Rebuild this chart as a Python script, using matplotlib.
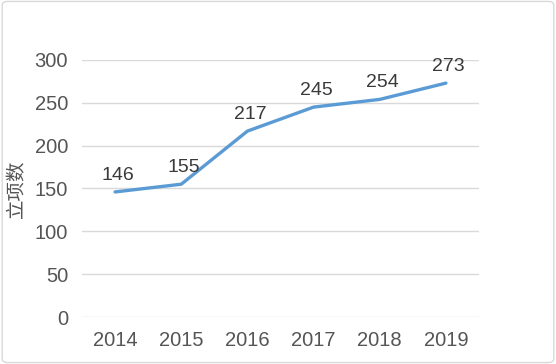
import matplotlib
matplotlib.use("Agg")
import matplotlib.pyplot as plt
from matplotlib.patches import FancyBboxPatch

years = ["2014", "2015", "2016", "2017", "2018", "2019"]
counts = [146, 155, 217, 245, 254, 273]
yticks = [0, 50, 100, 150, 200, 250, 300]

plt.rcParams['font.family'] = ['Liberation Sans', 'Noto Sans CJK SC', 'DejaVu Sans']

fig = plt.figure(figsize=(5.56, 3.64), dpi=100)
ax = fig.add_axes([0.1475, 0.1291, 0.714, 0.7061])

# outer border of the chart area
border = FancyBboxPatch((0.004, 0.004), 0.992, 0.992, boxstyle="round,pad=0,rounding_size=0.01",
                        transform=fig.transFigure, fill=False, edgecolor="#d9d9d9", linewidth=1)
fig.patches.append(border)

x = list(range(len(years)))
ax.plot(x, counts, color="#5b9bd5", linewidth=2.4, solid_capstyle="round")

for xi, v in zip(x, counts):
    ax.annotate(str(v), (xi, v), xytext=(2, 6), textcoords="offset points",
                ha="center", va="bottom", fontsize=14, color="#3a3a3a")

ax.set_xlim(-0.5, len(years) - 0.5)
ax.set_ylim(0, 300)
ax.set_yticks(yticks)
ax.set_xticks(x)
ax.set_xticklabels(years)
ax.grid(axis="y", color="#d9d9d9", linewidth=1)
ax.set_axisbelow(True)
for s in ax.spines.values():
    s.set_visible(False)
ax.tick_params(length=0, labelsize=14.5, labelcolor="#555555")
ax.tick_params(axis="y", pad=10)
ax.tick_params(axis="x", pad=10)
ax.set_ylabel("立项数", family=["Noto Sans CJK SC", "DejaVu Sans"], fontsize=14, color="#555555")
ax.yaxis.set_label_coords(-0.138, 0.5)

fig.savefig("out.png", dpi=100)
